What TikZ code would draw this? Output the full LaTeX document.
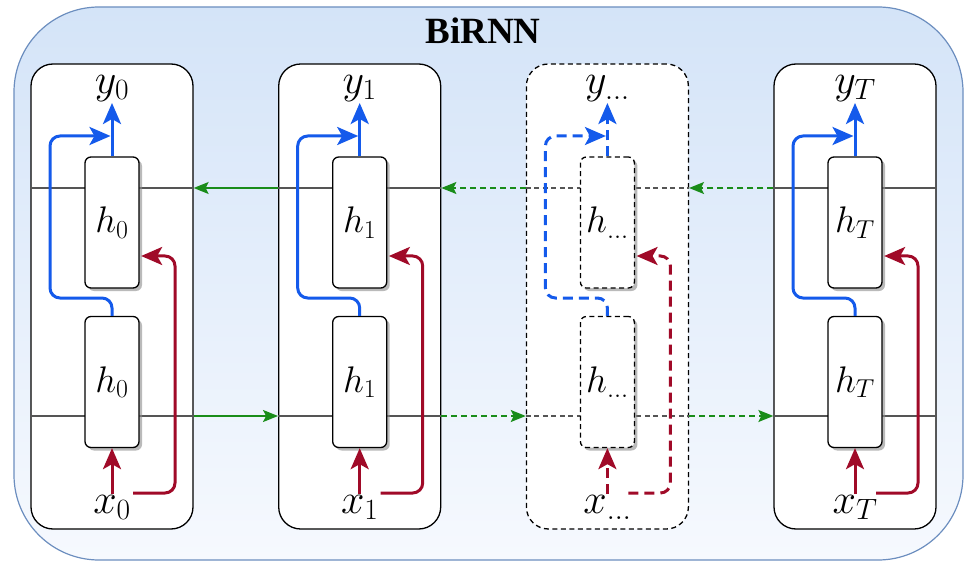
\RequirePackage{fix-cm}
\documentclass[tikz,border=0pt]{standalone}
\usepackage{fontspec}
\newfontfamily\titlefont{Liberation Serif}
\usetikzlibrary{arrows.meta,shadows,calc}
\definecolor{bblue}{RGB}{20,90,235}
\definecolor{rred}{RGB}{160,10,40}
\definecolor{ggreen}{RGB}{25,140,25}
\definecolor{outerfill}{RGB}{212,228,248}
\definecolor{outerbot}{RGB}{246,249,254}
\definecolor{outerdraw}{RGB}{108,142,191}
\definecolor{hgray}{RGB}{85,85,85}
\tikzset{
  outerbox/.style={draw=outerdraw, line width=1.2pt, rounded corners=85pt, top color=outerfill, bottom color=outerbot},
  colbox/.style={draw=black, fill=white, line width=1.3pt, rounded corners=22pt, minimum width=162pt, minimum height=465pt, inner sep=0pt},
  hbox/.style={draw=black, fill=white, line width=1.3pt, rounded corners=6pt, minimum width=54pt, minimum height=131pt, inner sep=0pt,
    drop shadow={shadow xshift=3pt, shadow yshift=-3pt, fill=black!45, opacity=0.6}},
  lbl/.style={inner sep=1pt, font=\fontsize{42}{46}\selectfont},
  hlbl/.style={inner sep=1pt, font=\fontsize{37}{41}\selectfont},
  hline/.style={draw=hgray, line width=1.1pt},
  garrow/.style={draw=ggreen, line width=1.5pt, -{Stealth[length=15pt,width=12pt,inset=3pt]}},
  barrow/.style={draw=bblue, line width=3pt, -{Stealth[length=21pt,width=18pt,inset=5pt]}},
  rarrow/.style={draw=rred, line width=3pt, -{Stealth[length=21pt,width=18pt,inset=5pt]}},
  dsh/.style={dash pattern=on 5pt off 3.5pt},
  gdsh/.style={dash pattern=on 6pt off 4pt},
  dshthick/.style={dash pattern=on 10pt off 6pt},
}
\begin{document}
\begin{tikzpicture}[x=1pt,y=-1pt]
\useasboundingbox (0,0) rectangle (966,561);
\path[outerbox] (14,7) rectangle (963,560);
\node[font=\titlefont\bfseries\fontsize{37}{40}\selectfont, inner sep=0pt] (title) at (483,31) {BiRNN};

\coordinate (ltop) at (0,188);
\coordinate (lbot) at (0,416);

% columns
\foreach \i/\cx/\s/\d in {0/112/0/solid,1/359.7/1/solid,2/607.4/{\ldots}/dsh,3/855/T/solid}{
  \node[colbox,\d] (col\i) at (\cx,296.5) {};
  \draw[hline,\d] (col\i.west |- ltop) -- (col\i.east |- ltop);
  \draw[hline,\d] (col\i.west |- lbot) -- (col\i.east |- lbot);
  \node[hbox,\d] (ht\i) at (\cx,222.5) {};
  \node[hlbl] at (ht\i) {$h_{\s}$};
  \node[hbox,\d] (hb\i) at (\cx,382) {};
  \node[hlbl] at (hb\i) {$h_{\s}$};
  \node[lbl,anchor=south] (y\i) at (\cx,103) {$y_{\s}$};
  \node[lbl,anchor=north] (x\i) at (\cx,494) {$x_{\s}$};
  \coordinate (bl\i) at ($(\cx,298)+(-62,0)$);
  \coordinate (bt\i) at ($(\cx,136)+(-62,0)$);
  \coordinate (rr\i) at ($(\cx,256)+(63,0)$);
  \coordinate (xs\i) at (\cx+21,493);
}

% solid connectors
\foreach \i in {0,1,3}{
  \draw[barrow] (ht\i.north) -- (y\i.south);
  \draw[barrow, rounded corners=10pt] (hb\i.north) |- (bl\i) -- (bt\i) -- ([xshift=-1.5pt]ht\i.north |- bt\i);
  \draw[rarrow] (x\i.north) -- (hb\i.south);
  \draw[rarrow, rounded corners=10pt] (xs\i) -| (rr\i) -- ([xshift=1.5pt]ht\i.east |- rr\i);
}
% dashed connectors
\draw[barrow,dshthick] (ht2.north) -- (y2.south);
\draw[barrow,dshthick, rounded corners=10pt] (hb2.north) |- (bl2) -- (bt2) -- ([xshift=-1.5pt]ht2.north |- bt2);
\draw[rarrow,dshthick] (x2.north) -- (hb2.south);
\draw[rarrow,dshthick, rounded corners=10pt] (xs2) -| (rr2) -- ([xshift=1.5pt]ht2.east |- rr2);

% green recurrent arrows
\draw[garrow] (col1.west |- ltop) -- (col0.east |- ltop);
\draw[garrow,gdsh] (col2.west |- ltop) -- (col1.east |- ltop);
\draw[garrow,gdsh] (col3.west |- ltop) -- (col2.east |- ltop);
\draw[garrow] (col0.east |- lbot) -- (col1.west |- lbot);
\draw[garrow,gdsh] (col1.east |- lbot) -- (col2.west |- lbot);
\draw[garrow,gdsh] (col2.east |- lbot) -- (col3.west |- lbot);
\end{tikzpicture}
\end{document}
